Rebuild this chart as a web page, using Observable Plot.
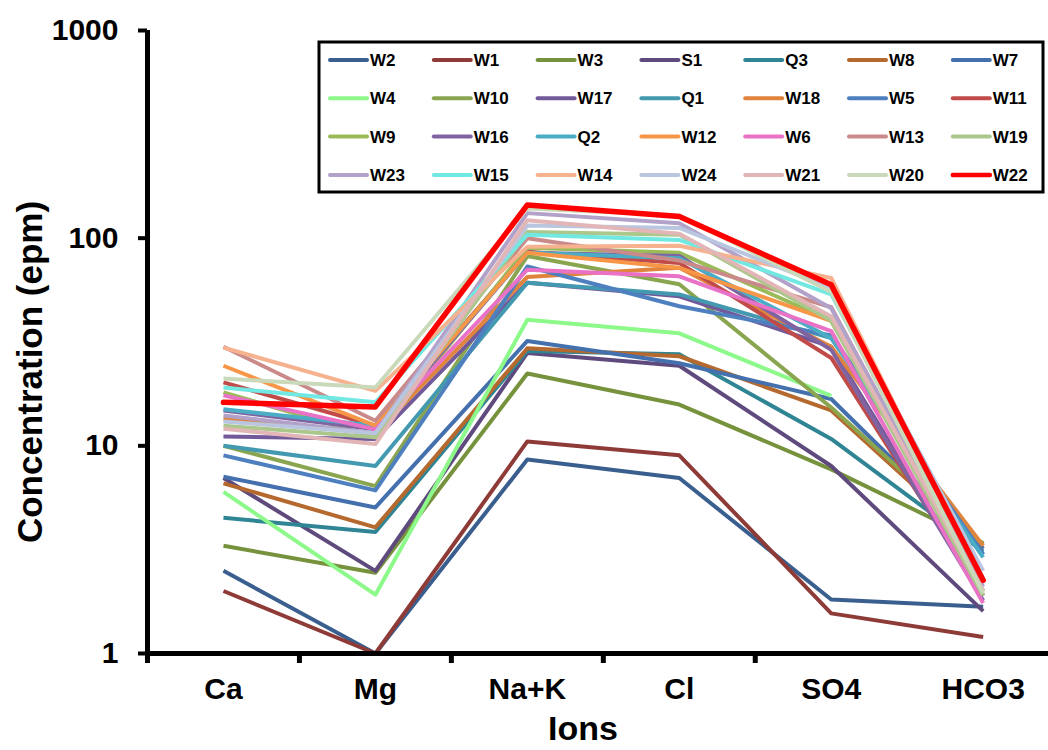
<!DOCTYPE html>
<html>
<head>
<meta charset="utf-8">
<script src="https://cdn.jsdelivr.net/npm/d3@7"></script>
<script src="https://cdn.jsdelivr.net/npm/@observablehq/plot@0.6"></script>
<style>
  html, body { margin: 0; padding: 0; background: #fff; }
  #chart { position: relative; width: 1048px; height: 750px; overflow: hidden; }
</style>
</head>
<body>
<div id="chart"></div>
<script>
// Categories (x axis)
const ions = ["Ca", "Mg", "Na+K", "Cl", "SO4", "HCO3"];
const yTicks = [1, 10, 100, 1000];

// Series names (legend order) and colours
const series = ["W2","W1","W3","S1","Q3","W8","W7",
                "W4","W10","W17","Q1","W18","W5","W11",
                "W9","W16","Q2","W12","W6","W13","W19",
                "W23","W15","W14","W24","W21","W20","W22"];
const colors = ["#3A5F8F","#8E3B38","#77923D","#5E4A7D","#2F8594","#B5692E","#4470AE",
                "#8DF98A","#8AA54F","#72599A","#4399AF","#E0843D","#4E80C0","#C04B48",
                "#9BBB59","#8064A2","#4BACC6","#F79646","#E971C6","#C98A89","#ACC78C",
                "#B2A1C8","#72E8E2","#F6B18F","#BAC5DF","#E2B6B6","#CAD9BA","#FF0000"];

// Concentrations (epm): Ca, Mg, Na+K, Cl, SO4, HCO3 — one row per series
const values = [
  [2.5, 1.0, 8.6, 7.0, 1.82, 1.68],     // W2
  [2.0, 1.0, 10.5, 9.0, 1.56, 1.2],     // W1
  [3.3, 2.45, 22.3, 15.8, 7.7, 3.4],    // W3
  [7.0, 2.5, 28.0, 24.3, 8.0, 1.6],     // S1
  [4.5, 3.85, 28.6, 27.6, 10.8, 3.1],   // Q3
  [6.6, 4.05, 29.5, 27.0, 14.8, 3.2],   // W8
  [7.1, 5.05, 32.0, 25.0, 16.8, 3.2],   // W7
  [6.0, 1.92, 40.5, 34.8, 17.4, null],  // W4
  [10.0, 6.4, 82.0, 60.0, 15.3, 3.35],  // W10
  [11.1, 10.8, 61.0, 52.5, 30.0, 1.9],  // W17
  [10.0, 8.0, 61.0, 53.6, 33.0, 3.0],   // Q1
  [13.5, 11.5, 65.0, 72.0, 30.0, 3.3],  // W18
  [9.0, 6.1, 73.0, 47.0, 34.0, 3.0],    // W5
  [20.2, 12.5, 86.0, 76.0, 26.5, 1.9],  // W11
  [18.1, 11.0, 90.0, 85.0, 40.0, 2.0],  // W9
  [14.8, 12.0, 85.0, 82.0, 29.0, 1.8],  // W16
  [15.0, 12.5, 85.0, 80.0, 33.0, 2.9],  // Q2
  [24.3, 12.5, 85.0, 72.0, 40.0, 2.2],  // W12
  [17.5, 12.0, 70.5, 65.5, 35.7, 1.75], // W6
  [30.0, 13.2, 100.0, 78.0, 46.5, 2.0], // W13
  [12.5, 11.0, 107.0, 104.0, 40.0, 1.9],// W19
  [14.0, 11.5, 132.0, 118.0, 46.0, 2.1],// W23
  [19.1, 16.2, 104.0, 98.0, 53.6, 2.3], // W15
  [29.7, 18.4, 91.0, 92.0, 64.3, 2.2],  // W14
  [13.1, 11.5, 115.0, 112.0, 57.5, 2.5],// W24
  [12.1, 10.2, 122.0, 105.0, 42.0, 2.0],// W21
  [21.1, 19.1, 139.0, 129.0, 55.0, 1.95],// W20
  [16.2, 15.4, 144.5, 127.0, 59.7, 2.25] // W22
];

// Long table built from the arrays above
const rows = [];
series.forEach((name, s) => {
  ions.forEach((ion, i) => {
    const v = values[s][i];
    rows.push({name, i, v: v == null ? NaN : v});
  });
});
const highlight = "W22";

const font = "'Liberation Sans', Arial, Helvetica, sans-serif";

const plot = Plot.plot({
  width: 1048,
  height: 750,
  marginLeft: 147,
  marginRight: 0,
  marginTop: 30,
  marginBottom: 97,
  style: {fontFamily: font, color: "#000", background: "#fff"},
  x: {type: "linear", domain: [-0.5, 5.43]},
  y: {type: "log", domain: [1, 1000]},
  color: {domain: series, range: colors},
  marks: [
    Plot.line(rows.filter(d => d.name !== highlight), {
      x: "i", y: "v", z: "name", stroke: "name", strokeWidth: 4,
      strokeLinejoin: "round", strokeLinecap: "butt"
    }),
    Plot.line(rows.filter(d => d.name === highlight), {
      x: "i", y: "v", z: "name", stroke: "name", strokeWidth: 5.5,
      strokeLinejoin: "round"
    }),
    Plot.ruleY([1], {stroke: "#000", strokeWidth: 5}),
    Plot.ruleX([-0.5], {stroke: "#000", strokeWidth: 5}),
    Plot.axisY({
      ticks: yTicks, tickFormat: d => String(d), tickSize: 9, tickPadding: 20,
      fontSize: 30, fontWeight: "bold", strokeWidth: 4, label: null
    }),
    Plot.axisX({
      ticks: d3.range(ions.length - 1).map(k => k - 0.5), tickFormat: () => "",
      tickSize: 10, strokeWidth: 5, label: null
    }),
    Plot.axisX({
      ticks: d3.range(ions.length), tickFormat: k => ions[k], tickSize: 0,
      tickPadding: 24, fontSize: 30, fontWeight: "bold", label: null
    }),
    Plot.text(["Concentration (epm)"], {
      text: d => d, frameAnchor: "left", textAnchor: "middle", rotate: -90,
      dx: -117, dy: 30, fontSize: 35, fontWeight: "bold"
    }),
    Plot.text(["Ions"], {
      text: d => d, frameAnchor: "bottom", dx: -15, dy: 86,
      fontSize: 34, fontWeight: "bold"
    })
  ]
});

document.getElementById("chart").appendChild(plot);

// Legend inside the plot area (4 rows x 7 columns)
const svg = d3.select(plot);
const lg = svg.append("g").attr("font-family", font).attr("text-anchor", "start");
lg.append("rect")
  .attr("x", 319).attr("y", 42).attr("width", 724).attr("height", 150)
  .attr("fill", "#fff").attr("stroke", "#000").attr("stroke-width", 3);
series.forEach((name, k) => {
  const r = Math.floor(k / 7), c = k % 7;
  const x0 = 330 + c * 103.8, y0 = 60 + r * 38.3;
  const g = lg.append("g");
  g.append("line")
    .attr("x1", x0).attr("x2", x0 + 37).attr("y1", y0).attr("y2", y0)
    .attr("stroke", colors[k]).attr("stroke-width", name === highlight ? 4.5 : 4)
    .attr("stroke-linecap", "round");
  g.append("text")
    .attr("x", x0 + 40).attr("y", y0).attr("dy", "0.35em")
    .attr("text-anchor", "start")
    .attr("font-size", 17).attr("font-weight", "bold").attr("fill", "#000")
    .text(name);
});
</script>
</body>
</html>
